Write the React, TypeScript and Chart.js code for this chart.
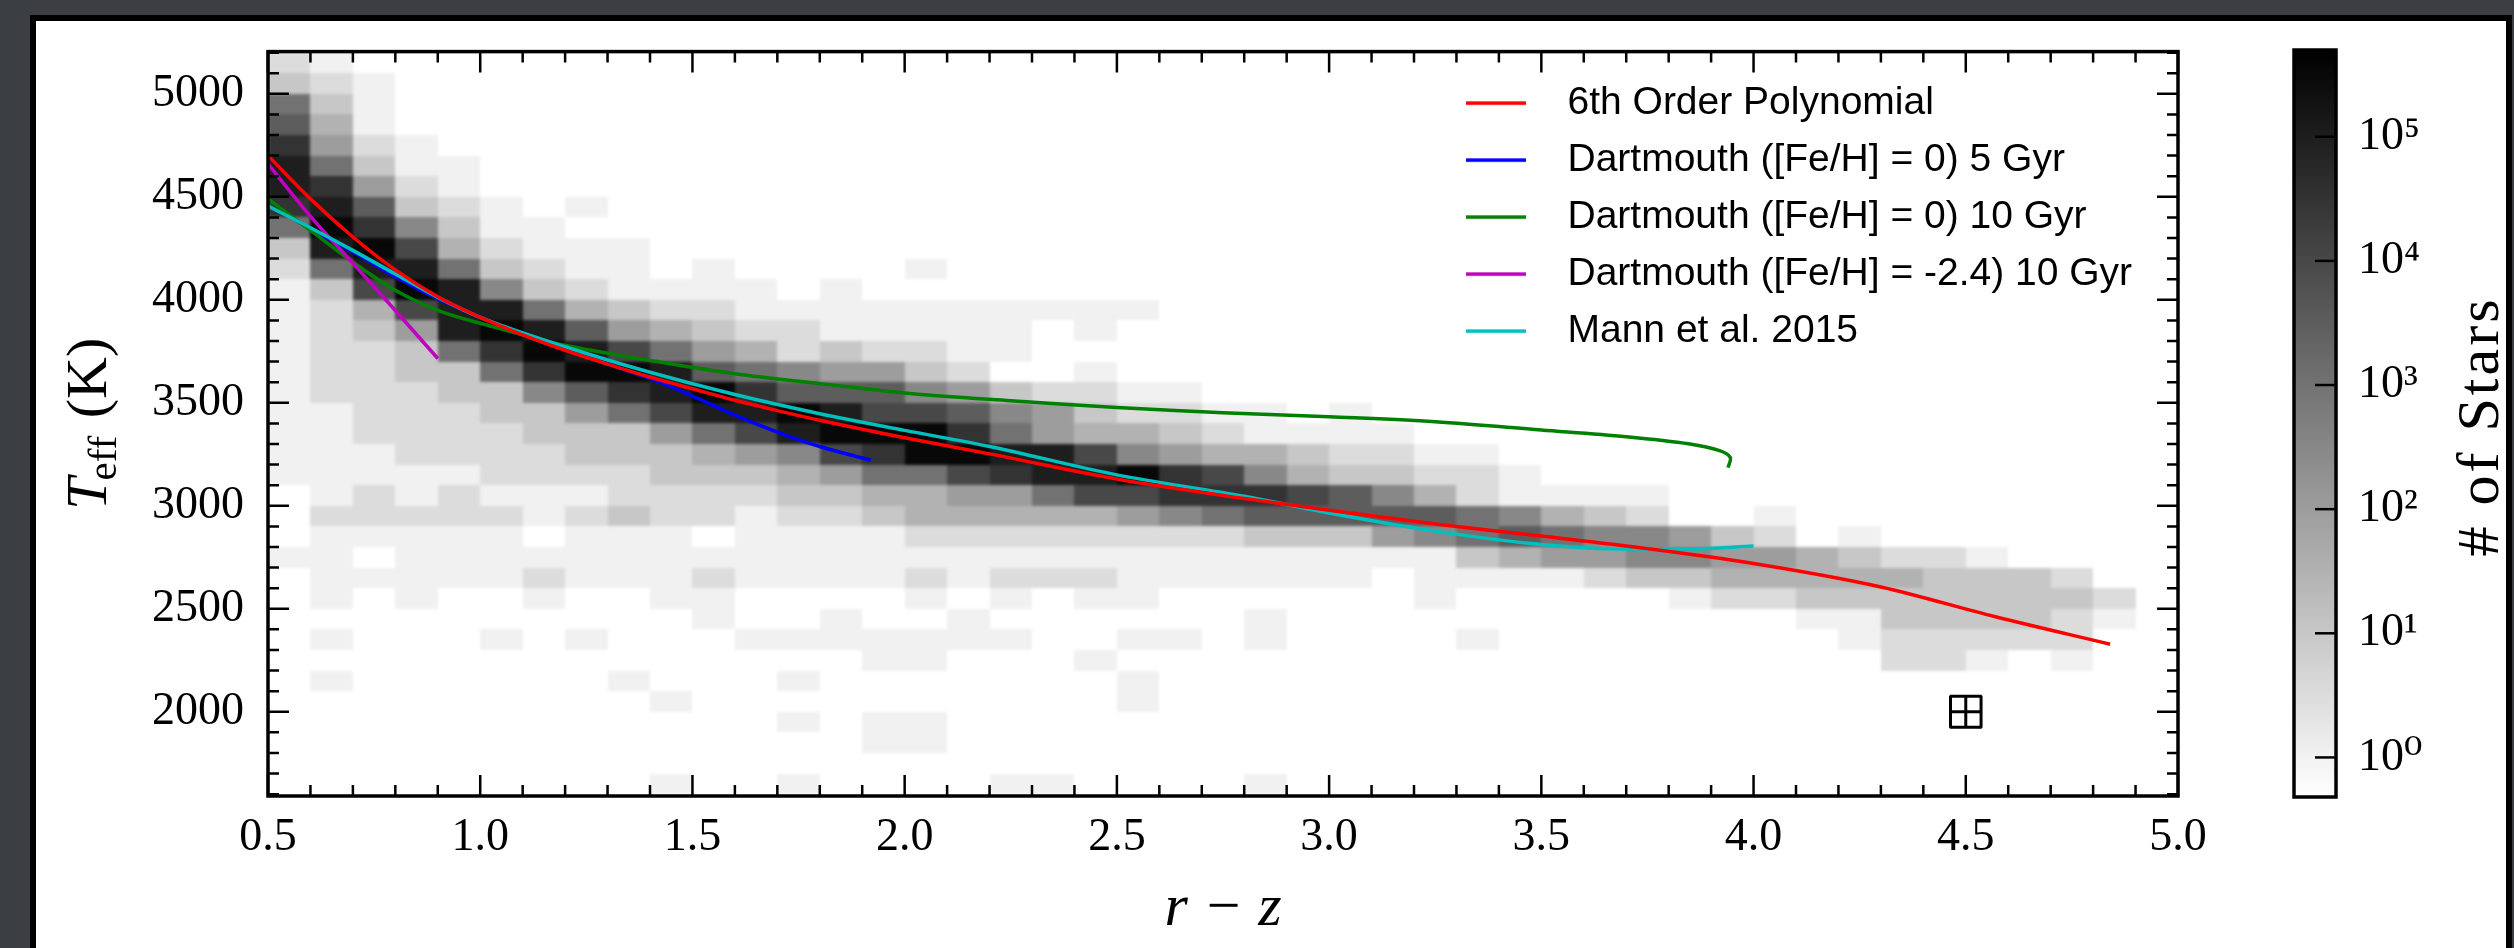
import React, { useEffect, useRef } from "react";
import { Chart, registerables } from "chart.js";

Chart.register(...registerables);

// ---------------- data ----------------
// 2D histogram of stars: bins in r-z (left edges) and Teff (lower edges)
const R_Z_BIN_LEFT = [
  0.5, 0.6, 0.7, 0.8, 0.9, 1.0, 1.1, 1.2, 1.3, 1.4, 1.5, 1.6, 1.7, 1.8, 1.9,
  2.0, 2.1, 2.2, 2.3, 2.4, 2.5, 2.6, 2.7, 2.8, 2.9, 3.0, 3.1, 3.2, 3.3, 3.4,
  3.5, 3.6, 3.7, 3.8, 3.9, 4.0, 4.1, 4.2, 4.3, 4.4, 4.5, 4.6, 4.7, 4.8, 4.9,
];
const R_Z_BIN_WIDTH = 0.1;
const TEFF_BIN_LOW = [
  5100, 5000, 4900, 4800, 4700, 4600, 4500, 4400, 4300, 4200, 4100, 4000,
  3900, 3800, 3700, 3600, 3500, 3400, 3300, 3200, 3100, 3000, 2900, 2800,
  2700, 2600, 2500, 2400, 2300, 2200, 2100, 2000, 1900, 1800, 1700, 1600,
];
const TEFF_BIN_HEIGHT = 100;
// one string per Teff row, one character per r-z column:
// '.' = no stars, otherwise log10(# of stars) = (hex digit) / 2
const STAR_COUNT_CODES = [
  "10",
  "210",
  "620",
  "730",
  "9410",
  "a6200",
  "a9410",
  "9a7210.0",
  "6b95200",
  "2ab831000",
  "16aa62100.0....0",
  "028ba5210000.0",
  "0138aa632110000000000",
  "0124aba74321100000.0",
  "011269ba8643121100",
  "0112269bba7654421..0",
  "011122579ab97775421100",
  "0011122468aaba8875421100.0",
  "001111222468abbb96433210000",
  "000111122234589bbaa8543321100",
  "000001111222346689aab985322110",
  ".01010001111223344688999875310000",
  ".11111012110112333334567777765321..0",
  ".00000.000.0000111111112224567655421.0",
  "00.00000000000000000000000002344554432110",
  ".0000010001000010111000000.0000122333332221",
  ".0.0..0..00....0.0.00......0.....01122222221",
  "..........0..0..0......0............00222210",
  ".0...0.0...0000000..00.0....0........011111",
  "..............00...0..................110.0",
  ".0......0...0.......0",
  ".........0..........0",
  "............0.00",
  "..............00",
  "",
  ".........0..0....00....0",
];

// curves
const POLY_RZ = [0.5, 0.6, 0.7, 0.8, 0.9, 1.0, 1.1, 1.2, 1.3, 1.4, 1.5, 1.6, 1.7, 1.8, 2.0, 2.2, 2.5, 2.8, 3.0, 3.25, 3.5, 3.75, 4.0, 4.3, 4.57, 4.84];
const POLY_TEFF = [4700, 4490, 4305, 4145, 4015, 3915, 3830, 3755, 3688, 3625, 3568, 3512, 3462, 3415, 3330, 3252, 3130, 3035, 2978, 2912, 2853, 2792, 2720, 2606, 2461, 2328];

const DART5_RZ = [0.556, 0.6, 0.7, 0.8, 0.9, 1.0, 1.1, 1.2, 1.3, 1.4, 1.5, 1.6, 1.7, 1.8, 1.92];
const DART5_TEFF = [4400, 4345, 4232, 4112, 4005, 3915, 3832, 3758, 3688, 3618, 3533, 3440, 3358, 3288, 3221];

const DART10_RZ = [0.5, 0.6, 0.7, 0.8, 0.9, 1.0, 1.2, 1.4, 1.6, 1.8, 2.0, 2.25, 2.5, 2.75, 3.0, 3.25, 3.5, 3.7, 3.85, 3.92, 3.945, 3.94];
const DART10_TEFF = [4490, 4337, 4183, 4046, 3949, 3886, 3779, 3706, 3641, 3593, 3548, 3510, 3477, 3452, 3432, 3408, 3368, 3335, 3300, 3268, 3235, 3185];

const DARTLOW_RZ = [0.5, 0.6, 0.7, 0.8, 0.9];
const DARTLOW_TEFF = [4660, 4405, 4178, 3948, 3715];

const MANN_RZ = [0.5, 0.6, 0.7, 0.8, 0.9, 1.0, 1.2, 1.4, 1.6, 1.8, 2.0, 2.2, 2.5, 2.8, 3.0, 3.25, 3.5, 3.7, 3.85, 4.0];
const MANN_TEFF = [4455, 4350, 4240, 4125, 4012, 3915, 3772, 3648, 3540, 3447, 3366, 3288, 3150, 3046, 2965, 2877, 2812, 2790, 2790, 2805];

const SERIES_LABELS = [
  "6th Order Polynomial",
  "Dartmouth ([Fe/H] = 0) 5 Gyr",
  "Dartmouth ([Fe/H] = 0) 10 Gyr",
  "Dartmouth ([Fe/H] = -2.4) 10 Gyr",
  "Mann et al. 2015",
];
const SERIES_COLORS = ["#ff0000", "#0000ff", "#008000", "#bf00bf", "#00bfbf"];

// typical error bar
const ERR_RZ = [4.5];
const ERR_TEFF = [2000];
const ERR_RZ_SIGMA = [0.036];
const ERR_TEFF_SIGMA = [75];

// axes
const X_MIN = 0.5;
const X_MAX = 5.0;
const Y_MIN = 1591;
const Y_MAX = 5205;
const X_TICKS = [0.5, 1.0, 1.5, 2.0, 2.5, 3.0, 3.5, 4.0, 4.5, 5.0];
const Y_TICKS = [2000, 2500, 3000, 3500, 4000, 4500, 5000];
const CB_MIN = 0.48;
const CB_MAX = 5.0e5;
const CB_TICKS = [1, 10, 100, 1000, 10000, 100000];
const CB_TICK_LABELS = ["10\u2070", "10\u00b9", "10\u00b2", "10\u00b3", "10\u2074", "10\u2075"];

const SERIF = '"Liberation Serif", "DejaVu Serif", serif';
const SANS = '"Liberation Sans", Arial, sans-serif';

// legend sample: a short line inside a wider transparent box
function makeLegendSample(color: string): HTMLCanvasElement {
  const c = document.createElement("canvas");
  c.width = 82;
  c.height = 8;
  const g = c.getContext("2d") as CanvasRenderingContext2D;
  g.strokeStyle = color;
  g.lineWidth = 3.5;
  g.beginPath();
  g.moveTo(0, 4);
  g.lineTo(60, 4);
  g.stroke();
  return c;
}

// ---------------- plugins ----------------
const heatmapPlugin = {
  id: "heatmap",
  beforeDatasetsDraw(chart: any) {
    const { ctx, chartArea: ca, scales, width, height } = chart;
    const x = scales.x;
    const y = scales.y;
    const lmin = Math.log10(CB_MIN);
    const lmax = Math.log10(CB_MAX);
    const off = document.createElement("canvas");
    off.width = width;
    off.height = height;
    const octx = off.getContext("2d") as CanvasRenderingContext2D;
    STAR_COUNT_CODES.forEach((row, r) => {
      const t0 = TEFF_BIN_LOW[r];
      const yTop = Math.round(y.getPixelForValue(t0 + TEFF_BIN_HEIGHT));
      const yBot = Math.round(y.getPixelForValue(t0));
      for (let c = 0; c < row.length && c < R_Z_BIN_LEFT.length; c++) {
        const ch = row[c];
        if (ch === ".") continue;
        const count = Math.pow(10, parseInt(ch, 16) / 2);
        let t = (Math.log10(count) - lmin) / (lmax - lmin);
        t = Math.max(0, Math.min(1, t));
        const g = Math.round(255 * (1 - t));
        const x0 = Math.round(x.getPixelForValue(R_Z_BIN_LEFT[c]));
        const x1 = Math.round(x.getPixelForValue(R_Z_BIN_LEFT[c] + R_Z_BIN_WIDTH));
        octx.fillStyle = `rgb(${g},${g},${g})`;
        octx.fillRect(x0, yTop, x1 - x0, yBot - yTop);
      }
    });
    ctx.save();
    ctx.beginPath();
    ctx.rect(ca.left, ca.top, ca.right - ca.left, ca.bottom - ca.top);
    ctx.clip();
    ctx.filter = "blur(1.5px)";
    ctx.drawImage(off, 0, 0);
    ctx.filter = "none";
    ctx.restore();
  },
};

const framePlugin = {
  id: "frame",
  afterDatasetsDraw(chart: any) {
    const { ctx, chartArea: ca, scales } = chart;
    const x = scales.x;
    const y = scales.y;
    ctx.save();
    ctx.strokeStyle = "#000";
    ctx.lineWidth = 2.5;
    ctx.lineCap = "butt";
    for (let i = 0; i <= 45; i++) {
      const v = X_MIN + i * 0.1;
      if (v > X_MAX + 1e-9) break;
      const len = i % 5 === 0 ? 21 : 11;
      const px = x.getPixelForValue(v);
      ctx.beginPath();
      ctx.moveTo(px, ca.bottom);
      ctx.lineTo(px, ca.bottom - len);
      ctx.moveTo(px, ca.top);
      ctx.lineTo(px, ca.top + len);
      ctx.stroke();
    }
    for (let v = 1600; v <= 5200; v += 100) {
      const len = v % 500 === 0 ? 21 : 11;
      const py = y.getPixelForValue(v);
      ctx.beginPath();
      ctx.moveTo(ca.left, py);
      ctx.lineTo(ca.left + len, py);
      ctx.moveTo(ca.right, py);
      ctx.lineTo(ca.right - len, py);
      ctx.stroke();
    }
    ctx.lineWidth = 3;
    ERR_RZ.forEach((xv, i) => {
      const px = x.getPixelForValue(xv);
      const py = y.getPixelForValue(ERR_TEFF[i]);
      const pxl = x.getPixelForValue(xv - ERR_RZ_SIGMA[i]);
      const pxr = x.getPixelForValue(xv + ERR_RZ_SIGMA[i]);
      const pyt = y.getPixelForValue(ERR_TEFF[i] + ERR_TEFF_SIGMA[i]);
      const pyb = y.getPixelForValue(ERR_TEFF[i] - ERR_TEFF_SIGMA[i]);
      const cap = 16;
      ctx.beginPath();
      ctx.moveTo(pxl, py);
      ctx.lineTo(pxr, py);
      ctx.moveTo(px, pyt);
      ctx.lineTo(px, pyb);
      ctx.moveTo(pxl, py - cap);
      ctx.lineTo(pxl, py + cap);
      ctx.moveTo(pxr, py - cap);
      ctx.lineTo(pxr, py + cap);
      ctx.moveTo(px - cap, pyt);
      ctx.lineTo(px + cap, pyt);
      ctx.moveTo(px - cap, pyb);
      ctx.lineTo(px + cap, pyb);
      ctx.stroke();
    });
    ctx.lineWidth = 3.5;
    ctx.strokeRect(ca.left, ca.top, ca.right - ca.left, ca.bottom - ca.top);
    ctx.restore();
  },
};

const legendPlacePlugin = {
  id: "legendPlace",
  afterLayout(chart: any) {
    const lg = chart.legend;
    if (!lg) return;
    const ca = chart.chartArea;
    const h = ca.bottom - ca.top;
    lg.left = ca.left + 1180;
    lg.top = ca.top + 14;
    lg.right = lg.left + lg.width + 80;
    lg.bottom = lg.top + h;
  },
};

const yTitlePlugin = {
  id: "yTitle",
  afterDraw(chart: any) {
    const { ctx, chartArea: ca } = chart;
    const cy = (ca.top + ca.bottom) / 2;
    ctx.save();
    ctx.translate(106, cy);
    ctx.rotate(-Math.PI / 2);
    ctx.fillStyle = "#000";
    ctx.textBaseline = "alphabetic";
    ctx.textAlign = "left";
    const fT = `italic 58px ${SERIF}`;
    const fSub = `41px ${SERIF}`;
    const fRest = `58px ${SERIF}`;
    ctx.font = fT;
    const wT = ctx.measureText("T").width;
    ctx.font = fSub;
    const wS = ctx.measureText("eff").width;
    ctx.font = fRest;
    const wR = ctx.measureText(" (K)").width;
    let xx = -(wT + wS + wR) / 2;
    ctx.font = fT;
    ctx.fillText("T", xx, 0);
    xx += wT - 3;
    ctx.font = fSub;
    ctx.fillText("eff", xx, 10);
    xx += wS + 3;
    ctx.font = fRest;
    ctx.fillText(" (K)", xx, 0);
    ctx.restore();
  },
};

const colorbarPlugin = {
  id: "colorbar",
  beforeDatasetsDraw(chart: any) {
    const { ctx, chartArea: ca, scales } = chart;
    const y = scales.y;
    const yLo = y.getPixelForValue(CB_MIN);
    const yHi = y.getPixelForValue(CB_MAX);
    const grad = ctx.createLinearGradient(0, yLo, 0, yHi);
    grad.addColorStop(0, "#ffffff");
    grad.addColorStop(1, "#000000");
    ctx.save();
    ctx.fillStyle = grad;
    ctx.fillRect(ca.left, ca.top, ca.right - ca.left, ca.bottom - ca.top);
    ctx.restore();
  },
  afterDatasetsDraw(chart: any) {
    const { ctx, chartArea: ca, scales } = chart;
    const y = scales.y;
    ctx.save();
    ctx.strokeStyle = "#000";
    ctx.lineWidth = 2.5;
    CB_TICKS.forEach((v) => {
      const py = y.getPixelForValue(v);
      ctx.beginPath();
      ctx.moveTo(ca.right, py);
      ctx.lineTo(ca.right - 21, py);
      ctx.stroke();
    });
    ctx.lineWidth = 3.5;
    ctx.strokeRect(ca.left, ca.top, ca.right - ca.left, ca.bottom - ca.top);
    ctx.restore();
  },
  afterDraw(chart: any) {
    const { ctx, chartArea: ca } = chart;
    const cy = (ca.top + ca.bottom) / 2 + 3;
    ctx.save();
    ctx.translate(298, cy);
    ctx.rotate(-Math.PI / 2);
    ctx.fillStyle = "#000";
    ctx.textBaseline = "alphabetic";
    ctx.textAlign = "center";
    ctx.font = `60px ${SERIF}`;
    try {
      (ctx as any).letterSpacing = "3px";
    } catch (e) {}
    ctx.fillText("# of Stars", 0, 0);
    ctx.restore();
  },
};

// ---------------- component ----------------
export default function App() {
  const mainRef = useRef<HTMLCanvasElement>(null);
  const cbRef = useRef<HTMLCanvasElement>(null);

  useEffect(() => {
    const xs = [POLY_RZ, DART5_RZ, DART10_RZ, DARTLOW_RZ, MANN_RZ];
    const ys = [POLY_TEFF, DART5_TEFF, DART10_TEFF, DARTLOW_TEFF, MANN_TEFF];
    const drawOrder = [0, 4, 3, 2, 1];
    const datasets = SERIES_LABELS.map((label, i) => ({
      label,
      data: xs[i].map((xv, j) => ({ x: xv, y: ys[i][j] })),
      showLine: true,
      borderColor: SERIES_COLORS[i],
      backgroundColor: SERIES_COLORS[i],
      borderWidth: 3.5,
      pointRadius: 0,
      pointHoverRadius: 0,
      pointStyle: makeLegendSample(SERIES_COLORS[i]),
      fill: false,
      order: drawOrder[i],
      tension: i === 2 ? 0.35 : 0,
      cubicInterpolationMode: i === 2 ? "default" : "monotone",
    }));

    const main = new Chart(mainRef.current as HTMLCanvasElement, {
      type: "scatter",
      data: { datasets } as any,
      options: {
        animation: false,
        responsive: false,
        devicePixelRatio: 1,
        events: [],
        layout: { padding: { left: 118, top: 51, right: 336, bottom: 0 } },
        plugins: {
          tooltip: { enabled: false },
          legend: {
            display: true,
            position: "chartArea",
            align: "start",
            labels: {
              usePointStyle: true,
              pointStyleWidth: 82,
              boxWidth: 82,
              padding: 18,
              color: "#000",
              font: { family: SANS, size: 39 },
              sort: (a: any, b: any) => a.datasetIndex - b.datasetIndex,
            },
          },
        },
        scales: {
          x: {
            type: "linear",
            position: "bottom",
            min: X_MIN,
            max: X_MAX,
            grid: { display: false, drawTicks: false },
            border: { display: false },
            afterBuildTicks: (s: any) => {
              s.ticks = X_TICKS.map((v) => ({ value: v }));
            },
            afterFit: (s: any) => {
              s.height = 152;
            },
            ticks: {
              autoSkip: false,
              maxRotation: 0,
              padding: 14,
              color: "#000",
              font: { family: SERIF, size: 46 },
              callback: (v: any) => Number(v).toFixed(1),
            },
            title: {
              display: true,
              text: "r \u2212 z",
              color: "#000",
              font: { family: SERIF, size: 60, style: "italic" },
              padding: { top: 0, bottom: 3 },
            },
          },
          y: {
            type: "linear",
            position: "left",
            min: Y_MIN,
            max: Y_MAX,
            grid: { display: false, drawTicks: false },
            border: { display: false },
            afterBuildTicks: (s: any) => {
              s.ticks = Y_TICKS.map((v) => ({ value: v }));
            },
            afterFit: (s: any) => {
              s.width = 150;
            },
            ticks: {
              autoSkip: false,
              padding: 24,
              color: "#000",
              font: { family: SERIF, size: 46 },
              callback: (v: any) => String(v),
            },
          },
        },
      } as any,
      plugins: [heatmapPlugin, framePlugin, legendPlacePlugin, yTitlePlugin] as any,
    });

    const cb = new Chart(cbRef.current as HTMLCanvasElement, {
      type: "scatter",
      data: { datasets: [] },
      options: {
        animation: false,
        responsive: false,
        devicePixelRatio: 1,
        events: [],
        layout: { padding: { left: 94, top: 50, right: 58, bottom: 151 } },
        plugins: { legend: { display: false }, tooltip: { enabled: false } },
        scales: {
          x: { display: false, min: 0, max: 1 },
          y: {
            type: "logarithmic",
            position: "right",
            min: CB_MIN,
            max: CB_MAX,
            grid: { display: false, drawTicks: false },
            border: { display: false },
            afterBuildTicks: (s: any) => {
              s.ticks = CB_TICKS.map((v) => ({ value: v }));
            },
            afterFit: (s: any) => {
              s.width = 120;
            },
            ticks: {
              autoSkip: false,
              padding: 22,
              color: "#000",
              font: { family: SERIF, size: 46 },
              callback: (v: any) => {
                const idx = CB_TICKS.indexOf(Number(v));
                return idx >= 0 ? CB_TICK_LABELS[idx] : "";
              },
            },
          },
        },
      } as any,
      plugins: [colorbarPlugin] as any,
    });

    return () => {
      main.destroy();
      cb.destroy();
    };
  }, []);

  return (
    <div
      style={{
        position: "fixed",
        left: 0,
        top: 0,
        width: 2514,
        height: 948,
        background: "#3c3f42",
        overflow: "hidden",
      }}
    >
      <div
        style={{
          position: "absolute",
          left: 30,
          top: 15,
          width: 2482,
          height: 980,
          background: "#ffffff",
          border: "6px solid #000",
          boxSizing: "border-box",
        }}
      />
      <canvas
        ref={mainRef}
        width={2514}
        height={948}
        style={{ position: "absolute", left: 0, top: 0, width: 2514, height: 948 }}
      />
      <canvas
        ref={cbRef}
        width={314}
        height={948}
        style={{ position: "absolute", left: 2200, top: 0, width: 314, height: 948 }}
      />
    </div>
  );
}
